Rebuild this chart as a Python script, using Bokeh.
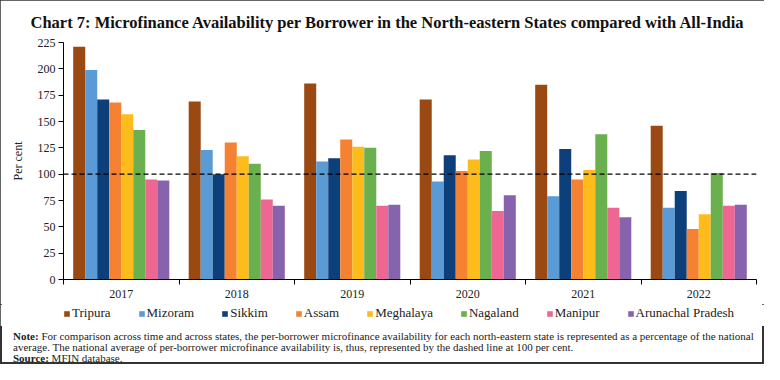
from bokeh.plotting import figure
from bokeh.models import (ColumnDataSource, Range1d, FixedTicker, Span, Legend, LegendItem, Div)
from bokeh.layouts import column
from bokeh.core.properties import value
from bokeh.transform import dodge
from bokeh.embed import file_html
from bokeh.resources import INLINE
import numpy as np

years = ["2017", "2018", "2019", "2020", "2021", "2022"]
states = ["Tripura", "Mizoram", "Sikkim", "Assam", "Meghalaya", "Nagaland", "Manipur", "Arunachal Pradesh"]
tripura   = [221, 169, 186, 171, 185, 146]
mizoram   = [199, 123, 112, 93, 79, 68]
sikkim    = [171, 100, 115, 118, 124, 84]
assam     = [168, 130, 133, 103, 95, 48]
meghalaya = [157, 117, 126, 114, 104, 62]
nagaland  = [142, 110, 125, 122, 138, 101]
manipur   = [95, 76, 70, 65, 68, 70]
arunachal = [94, 70, 71, 80, 59, 71]
series = [tripura, mizoram, sikkim, assam, meghalaya, nagaland, manipur, arunachal]
colors = ["#9A4912", "#5A9BD5", "#0D3F7A", "#F58233", "#FDBC1B", "#6AB04E", "#EE6792", "#8763AE"]
y_ticks = [0, 25, 50, 75, 100, 125, 150, 175, 200, 225]
national_avg = 100

title_text = "Chart 7: Microfinance Availability per Borrower in the North-eastern States compared with All-India"
note_line1 = "For comparison across time and across states, the per-borrower microfinance availability for each north-eastern state is represented as a percentage of the national"
note_line2 = "average. The national average of per-borrower microfinance availability is, thus, represented by the dashed line at 100 per cent."
source_text = "MFIN database."

SERIF = "Liberation Serif"

data = {"x": list(np.arange(len(years)) + 0.5)}
cols = []
for j, vals in enumerate(series):
    data["col%d" % j] = vals
    cols.append("col%d" % j)
source = ColumnDataSource(data)

W, H1, HL, H2 = 764, 304, 22, 38
p = figure(width=W, height=H1, output_backend="svg", toolbar_location=None,
           x_range=Range1d(0, len(years)), y_range=Range1d(0, 225),
           min_border_left=63, min_border_right=8, min_border_top=41, min_border_bottom=25)
p.outline_line_color = None
p.xgrid.visible = False
p.ygrid.visible = False
p.background_fill_color = "white"
p.border_fill_color = "white"

p.title.text = title_text
p.title.text_font = SERIF
p.title.text_font_size = "16.5px"
p.title.text_font_style = "bold"
p.title.text_color = "#111"
p.title.align = "left"
p.title.offset = -33
p.title.standoff = 21

bw = 0.104
for j, (col, c) in enumerate(zip(cols, colors)):
    p.vbar(x=dodge("x", (j - 3.5) * bw, range=p.x_range), top=col, width=bw,
           source=source, fill_color=c, line_color=None)

p.add_layout(Span(location=national_avg, dimension="width", line_color="black",
                  line_width=1.2, line_dash="5 3"))

# axes
xa = p.xaxis[0]
xa.ticker = FixedTicker(ticks=list(np.arange(len(years)) + 0.5),
                        minor_ticks=list(range(len(years) + 1)))
xa.major_label_overrides = {float(i + 0.5): y for i, y in enumerate(years)}
xa.major_tick_out = 0
xa.major_tick_in = 0
xa.minor_tick_out = 5
xa.minor_tick_in = 0
xa.minor_tick_line_color = "black"
xa.axis_line_color = "black"
xa.major_label_text_font = SERIF
xa.major_label_text_font_size = "12px"
xa.major_label_text_color = "#222"
xa.major_label_standoff = 5

ya = p.yaxis[0]
ya.ticker = FixedTicker(ticks=y_ticks)
ya.major_tick_out = 5
ya.major_tick_in = 0
ya.minor_tick_line_color = None
ya.axis_line_color = "black"
ya.major_tick_line_color = "black"
ya.major_label_text_font = SERIF
ya.major_label_text_font_size = "12px"
ya.major_label_text_color = "#222"
ya.major_label_standoff = 3
ya.axis_label = "Per cent"
ya.axis_label_text_font = SERIF
ya.axis_label_text_font_size = "12px"
ya.axis_label_text_font_style = "normal"
ya.axis_label_text_color = "#222"
ya.axis_label_standoff = 10

# legend strip (separate figure so that the legend is not clipped by the chart frame)
lf = figure(width=W, height=HL, output_backend="svg", toolbar_location=None,
            x_axis_type=None, y_axis_type=None, x_range=Range1d(0, 1), y_range=Range1d(0, 1),
            min_border_left=0, min_border_right=0, min_border_top=0, min_border_bottom=0)
lf.outline_line_color = None
lf.xgrid.visible = False
lf.ygrid.visible = False
leg_renderers = [lf.vbar(x=[0.5], top=[float("nan")], width=0.1, fill_color=c, line_color=None)
                 for c in colors]
legend = Legend(items=[LegendItem(label=value(s), renderers=[r]) for s, r in zip(states, leg_renderers)],
                orientation="horizontal", location=(0, 5),
                glyph_width=7, glyph_height=7, label_standoff=2, spacing=27,
                padding=0, margin=0, label_height=15, label_width=10,
                border_line_color=None, background_fill_alpha=0,
                label_text_font=SERIF, label_text_font_size="13px",
                label_text_color="#222")
lf.add_layout(legend)

notes = Div(
    text=("<b>Note:</b> " + note_line1 + "<br>" + note_line2 +
          "<br><b>Source:</b> " + source_text),
    width=W, height=H2, margin=0,
    styles={"font-family": SERIF, "font-size": "11px", "line-height": "11px",
            "color": "#222", "white-space": "nowrap", "padding-left": "13px",
            "padding-top": "5px", "box-sizing": "border-box", "overflow": "visible"})

layout = column(p, lf, notes, spacing=0)
layout.styles = {"outline": "2px solid #333", "outline-offset": "-2px", "background": "white"}

open("out.html", "w").write(file_html(layout, INLINE))
